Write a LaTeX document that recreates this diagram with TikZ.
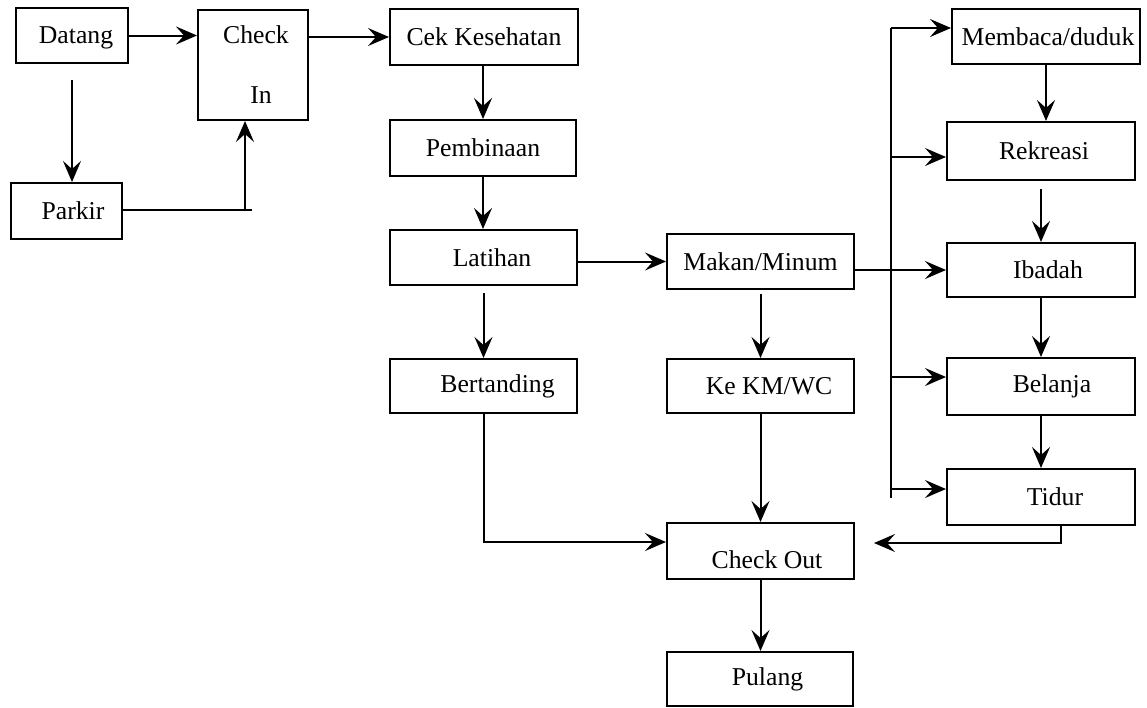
\documentclass[tikz,border=0pt]{standalone}
\usepackage{fontspec}
\setmainfont{Liberation Serif}
\usepackage{tikz}
\usetikzlibrary{positioning,calc,arrows.meta}

\begin{document}
\begin{tikzpicture}[x=1pt, y=-1pt, line width=2pt, >={Stealth[length=21pt,width=18pt,inset=8pt]}, act block/.style={draw, rectangle, minimum width=187pt, minimum height=55pt, align=center, inner sep=0pt, font=\fontsize{25.7pt}{30pt}\selectfont}]
    \useasboundingbox (0,0) rectangle (1147,707);

    \node[act block, minimum width=112pt] (datang) at (72,35.5) {\hspace*{8pt}\raisebox{-2pt}[\height][\depth]{Datang}};
    \node[act block, minimum width=111pt, minimum height=56pt] (parkir) at (66.5,211) {\hspace*{13pt}Parkir};
    \node[act block, minimum width=110pt, minimum height=110pt] (checkin) at (253,65) {\hspace*{6pt}Check\\[30pt]\hspace*{16pt}In};
    \node[act block, minimum width=188pt, minimum height=56pt] (cek) at (484,37) {Cek Kesehatan};
    \node[act block, minimum width=186pt, minimum height=56pt] (pembinaan) at (483,148) {Pembinaan};
    \node[act block] (latihan) at (483.5,257.5) {\hspace*{17pt}Latihan};
    \node[act block, minimum height=54pt] (bertanding) at (483.5,386) {\hspace*{28pt}Bertanding};
    \node[act block] (makan) at (760.5,261.5) {Makan/Minum};
    \node[act block, minimum height=54pt] (km) at (760.5,386) {\hspace*{17pt}Ke KM/WC};
    \node[act block, minimum height=56pt] (checkout) at (760.5,551) {\hspace*{13pt}\raisebox{-9pt}[\height][0pt]{Check Out}};
    \node[act block, minimum width=186pt, minimum height=54pt] (pulang) at (760,679) {\hspace*{15pt}Pulang};
    \node[act block, minimum width=188pt] (membaca) at (1046,36.5) {\hspace*{4pt}Membaca/duduk};
    \node[act block, minimum width=188pt, minimum height=58pt] (rekreasi) at (1041,151) {\hspace*{6pt}Rekreasi};
    \node[act block, minimum width=188pt, minimum height=54pt] (ibadah) at (1041,270) {\hspace*{14pt}Ibadah};
    \node[act block, minimum width=188pt, minimum height=57pt] (belanja) at (1041,386.5) {\hspace*{22pt}Belanja};
    \node[act block, minimum width=188pt, minimum height=56pt] (tidur) at (1041,497) {\hspace*{28pt}Tidur};

    \coordinate (pk) at (245,210);
    \coordinate (trunk top) at (891,28);
    \coordinate (trunk rek) at (891,157);
    \coordinate (trunk bel) at (891,377);
    \coordinate (trunk tid) at (891,489);
    \coordinate (trunk bot) at (891,498);

    \draw[->] (datang.east) -- (datang.east -| checkin.west);
    \draw[->] ([yshift=-16pt]datang.south) -- (datang.south |- parkir.north);
    \draw (parkir.east |- pk) -- ([xshift=7pt]pk);
    \draw[->] (pk) -- (pk |- checkin.south);
    \draw[->] (cek.west -| checkin.east) -- (cek.west);
    \draw[->] (pembinaan.north |- cek.south) -- (pembinaan.north);
    \draw[->] (pembinaan.south) -- (pembinaan.south |- latihan.north);
    \draw[->] (latihan.east |- makan.west) -- (makan.west);
    \draw[->] ([yshift=-7pt]latihan.south) -- (bertanding.north);
    \draw[->] ([yshift=-4pt]makan.south) -- (km.north);
    \draw[->] (km.south) -- (checkout.north);
    \draw[->] (bertanding.south) |- ([yshift=9pt]checkout.west);
    \draw[->] (checkout.south) -- (checkout.south |- pulang.north);

    \draw (trunk top) -- (trunk bot);
    \draw[->] (trunk top) -- (trunk top -| membaca.west);
    \draw[->] (trunk rek) -- (trunk rek -| rekreasi.west);
    \draw[->] (ibadah.west -| makan.east) -- (ibadah.west);
    \draw[->] (trunk bel) -- (trunk bel -| belanja.west);
    \draw[->] (trunk tid) -- (trunk tid -| tidur.west);

    \draw[->] (membaca.south) -- (membaca.south |- rekreasi.north);
    \draw[->] ([yshift=-8pt]rekreasi.south) -- (ibadah.north);
    \draw[->] (ibadah.south) -- (belanja.north);
    \draw[->] (belanja.south) -- (tidur.north);
    \draw[->] ([xshift=20pt]tidur.south) |- ([xshift=19pt,yshift=8pt]checkout.east);

\end{tikzpicture}
\end{document}
